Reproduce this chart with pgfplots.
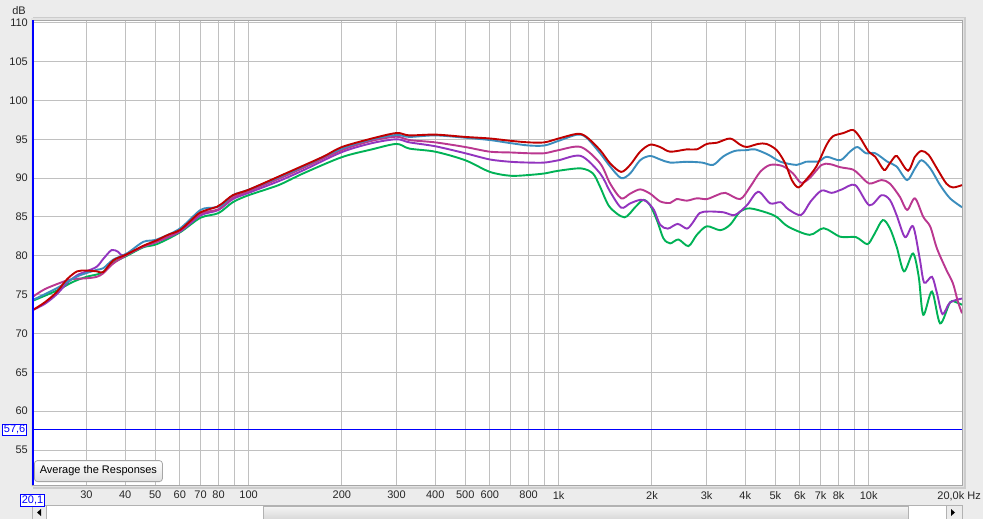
\documentclass[border=0pt]{standalone}
\usepackage{pgfplots}
\pgfplotsset{compat=1.18}
\usepackage{fontspec}
\setmainfont{Liberation Sans}
\definecolor{bgcol}{HTML}{ECECEC}
\definecolor{gridcol}{HTML}{C0C0C0}
\definecolor{cred}{HTML}{C00000}
\definecolor{cblue}{HTML}{3B8DBD}
\definecolor{cmag}{HTML}{BA3790}
\definecolor{cpur}{HTML}{9234BF}
\definecolor{cgreen}{HTML}{00B256}
\definecolor{cursor}{HTML}{0000FF}
\begin{document}
\fontsize{11bp}{12bp}\selectfont
\begin{tikzpicture}[x=1bp,y=1bp]
\useasboundingbox (0,0) rectangle (983,-519);
\fill[bgcol] (0,0) rectangle (983,-519);
% frame shadow
\fill[gray!40] (33,-17) rectangle (966,-488.5);
\fill[gray!22] (31,-18) rectangle (964,-486.5);
\node[font=\fontsize{11bp}{12bp}\selectfont, text=black!85] at (19,-11) {dB};
% scrollbar
\fill[white] (32,-505.5) rectangle (962,-519);
\draw[gray!60, line width=0.8bp] (32,-505.5) rectangle (962,-519);
\shade[top color=gray!8, bottom color=gray!30] (263,-506) rectangle (908,-519);
\draw[gray!60, line width=0.8bp] (263,-506) rectangle (908,-519);
\fill[gray!15] (32.5,-506) rectangle (46,-519);
\draw[gray!60, line width=0.8bp] (46,-506) -- (46,-519);
\fill[black] (37,-512.5) -- (41,-509) -- (41,-516) -- cycle;
\fill[gray!15] (946,-506) rectangle (961.5,-519);
\draw[gray!60, line width=0.8bp] (946,-506) -- (946,-519);
\fill[black] (955,-512.5) -- (951,-509) -- (951,-516) -- cycle;
\begin{axis}[
  at={(32.5bp,-20bp)}, anchor=north west,
  scale only axis, width=929.5bp, height=465bp,
  xmode=log, xmin=20.1, xmax=20000, ymin=50.5, ymax=110.35,
  axis background/.style={fill=white},
  axis line style={draw=gray!70, line width=0.8bp},
  grid=major, major grid style={draw=gridcol, line width=1bp},
  major tick length=0pt, tick style={draw=none},
  xtick={30,40,50,60,70,80,90,100,200,300,400,500,600,700,800,900,1000,2000,3000,4000,5000,6000,7000,8000,9000,10000},
  xticklabels={30,40,50,60,70,80,{},100,200,300,400,500,600,{},800,{},1k,2k,3k,4k,5k,6k,7k,8k,{},10k},
  ytick={55,60,65,70,75,80,85,90,95,100,105,110},
  /pgf/number format/assume math mode=true,
  ticklabel style={font=\fontsize{11bp}{12bp}\selectfont, text=black!85},
  xticklabel style={inner sep=0pt, yshift=-6bp, anchor=north},
  yticklabel style={inner sep=0pt, xshift=-4.5bp, anchor=east},
  extra y ticks={57.6}, extra y tick labels={57{,}6},
  extra y tick style={grid=none,
    yticklabel style={draw=cursor, text=cursor, inner sep=1.3bp, xshift=-1bp, line width=0.8bp, fill=white}},
  extra x ticks={20.1}, extra x tick labels={20{,}1},
  extra x tick style={grid=none,
    xticklabel style={draw=cursor, text=cursor, inner sep=1.3bp, yshift=-3bp, line width=0.8bp, fill=white}},
  clip mode=individual,
  every axis plot/.append style={line width=1.9bp, smooth, mark=none},
  after end axis/.code={
    \draw[cursor, line width=1bp] (rel axis cs:0,0.1204) -- (rel axis cs:1,0.1204);
    \draw[cursor, line width=2bp] (rel axis cs:0,0) -- (rel axis cs:0,1);
    \node[draw=gray!70, rounded corners=3bp, line width=0.8bp, top color=white, bottom color=gray!25,
      minimum width=128bp, minimum height=21bp, inner sep=0pt,
      font=\fontsize{11bp}{12bp}\selectfont, anchor=south west] at ([xshift=1.5bp,yshift=3bp]rel axis cs:0,0) {Average the Responses};
    \node[font=\fontsize{11bp}{12bp}\selectfont, text=black!85, anchor=north east, inner sep=0pt] at ([xshift=19bp,yshift=-6bp]rel axis cs:1,0) {20,0k Hz};
  },
]
% green
\addplot[cgreen] coordinates {
(20.1,74.2)(24,75.5)(27,76.6)(30,77.3)(33.6,77.8)(36.6,79.1)(40.5,80.0)(45.8,81.1)(50.6,81.5)(60,83.0)(70,84.9)(80,85.5)(89,86.9)(100,87.8)(125,89.1)(150,90.6)(200,92.7)(250,93.7)(300,94.4)(330,93.8)(400,93.4)(500,92.3)(600,90.8)(700,90.3)(800,90.4)(900,90.6)(1000,90.95)(1180,91.25)(1290,90.6)(1360,88.9)(1460,86.3)(1630,84.95)(1765,86.25)(1877,87.2)(1973,86.5)(2074,84.6)(2178,82.25)(2289,81.6)(2435,82.1)(2623,81.25)(2791,82.7)(3006,83.8)(3319,83.3)(3574,84.0)(3851,85.7)(4147,86.1)(4694,85.55)(5050,85.0)(5500,83.75)(6450,82.7)(7160,83.55)(8100,82.45)(9100,82.4)(9900,81.5)(10400,82.7)(11100,84.6)(11700,83.55)(12300,81.2)(13000,78.0)(13900,80.3)(14500,77.3)(15000,72.4)(16000,75.4)(17000,71.3)(18300,74.0)(19200,74.0)(20000,73.7)
};
% purple
\addplot[cpur] coordinates {
(20.1,73.0)(22,73.8)(24,75.0)(26,76.5)(28,77.5)(30,78.0)(32.4,78.6)(34,79.6)(36.2,80.75)(38,80.5)(39.5,80.1)(45.8,81.2)(50.6,81.8)(60,83.1)(70,85.2)(80,85.9)(89,87.3)(100,88.1)(125,89.6)(150,91.0)(200,93.35)(250,94.5)(300,95.0)(330,94.6)(400,94.1)(500,93.2)(600,92.4)(700,92.1)(800,92.0)(900,92.0)(1000,92.3)(1180,92.85)(1361,90.6)(1466,88.25)(1591,86.2)(1701,86.75)(1832,87.2)(1920,87.0)(2030,85.9)(2125,84.0)(2250,83.5)(2420,84.1)(2592,83.5)(2700,84.2)(2850,85.5)(3050,85.7)(3400,85.6)(3700,85.25)(4046,86.5)(4400,88.25)(4812,86.75)(5200,86.9)(5500,86.0)(6050,85.25)(6500,87.0)(7050,88.4)(7600,88.1)(8200,88.55)(9050,89.1)(10050,86.5)(11000,87.8)(11700,87.2)(12300,85.25)(13100,82.4)(13900,83.8)(14600,79.7)(15100,76.55)(16000,77.3)(16600,75.2)(17300,72.5)(18300,74.0)(20000,74.5)
};
% magenta
\addplot[cmag] coordinates {
(20.1,74.7)(22,75.7)(25,76.6)(27,77.0)(30,77.1)(32.4,77.3)(34,77.75)(36.6,79.0)(40.5,80.1)(45.8,81.2)(50.6,81.8)(60,83.2)(70,85.4)(80,86.0)(89,87.5)(100,88.3)(125,89.9)(150,91.3)(200,93.6)(250,94.8)(300,95.33)(330,94.9)(400,94.6)(500,94.0)(600,93.4)(700,93.3)(800,93.2)(900,93.2)(1000,93.6)(1180,94.0)(1361,91.9)(1466,89.3)(1591,87.4)(1701,88.0)(1832,88.55)(1973,88.0)(2125,87.0)(2289,86.8)(2400,87.3)(2592,87.1)(2791,87.4)(3006,87.3)(3238,87.8)(3450,88.1)(3851,87.3)(4150,88.9)(4467,90.8)(4812,91.7)(5280,91.55)(5700,90.6)(6050,89.4)(6450,90.0)(7050,91.7)(7500,91.8)(8100,91.4)(8900,91.1)(9350,90.4)(10050,89.3)(11000,89.75)(11700,89.3)(12600,87.6)(13300,85.9)(14100,87.4)(15000,85.0)(15800,83.75)(16600,80.95)(17800,78.2)(18700,76.45)(19400,74.1)(20000,72.6)
};
% blue
\addplot[cblue] coordinates {
(20.1,74.3)(24,75.8)(27.2,77.1)(28.6,77.5)(32.4,78.2)(34,78.4)(36.6,79.5)(40.5,80.3)(45.8,81.8)(50.6,82.1)(60,83.5)(70,85.9)(77,86.2)(82,86.5)(89,87.8)(100,88.5)(125,90.1)(150,91.5)(200,93.8)(250,95.0)(300,95.55)(330,95.3)(400,95.5)(500,95.2)(600,94.9)(700,94.5)(800,94.2)(900,94.2)(1000,94.8)(1150,95.6)(1230,95.2)(1361,93.2)(1466,91.5)(1591,90.0)(1701,90.6)(1832,92.3)(1973,92.85)(2125,92.4)(2289,92.0)(2592,92.1)(2900,92.0)(3150,91.7)(3400,92.8)(3700,93.5)(4046,93.6)(4300,93.7)(4750,93.0)(5200,92.1)(5860,91.7)(6270,92.1)(6900,92.15)(7320,92.75)(8100,92.3)(8700,93.4)(9200,94.0)(9800,93.2)(10500,93.2)(11500,92.1)(12300,91.5)(13300,89.75)(14100,91.25)(14800,92.3)(15800,91.25)(17000,89.1)(18300,87.4)(20000,86.25)
};
% red
\addplot[cred] coordinates {
(20.1,73.0)(22,74.0)(24,75.3)(26,77.0)(28,78.0)(30,78.1)(32.4,78.0)(34,77.9)(36.6,79.4)(40.5,80.2)(45.8,81.3)(50.6,82.0)(55,82.7)(60,83.3)(65,84.5)(70,85.6)(79,86.3)(82,86.7)(89,87.8)(100,88.5)(125,90.2)(150,91.6)(175,92.8)(200,94.0)(250,95.1)(300,95.8)(330,95.5)(400,95.6)(500,95.3)(600,95.1)(700,94.8)(800,94.6)(900,94.6)(1000,95.1)(1150,95.7)(1230,95.3)(1361,93.6)(1466,91.9)(1591,90.8)(1701,91.7)(1832,93.4)(1973,94.3)(2125,94.0)(2289,93.4)(2592,93.7)(2791,93.7)(3006,94.4)(3238,94.55)(3574,95.1)(3851,94.3)(4046,94.0)(4400,94.4)(4680,94.4)(5050,93.6)(5380,91.9)(5650,89.75)(5930,88.8)(6270,89.75)(6780,91.5)(7320,94.3)(7680,95.4)(8290,95.8)(8900,96.2)(9350,95.3)(10000,93.4)(10500,92.75)(11200,91.05)(11600,91.7)(12200,92.85)(12500,92.55)(13400,90.95)(14100,92.75)(14800,93.5)(15600,93.0)(16600,91.25)(17800,89.3)(18700,88.8)(20000,89.1)
};
\end{axis}
\end{tikzpicture}
\end{document}
